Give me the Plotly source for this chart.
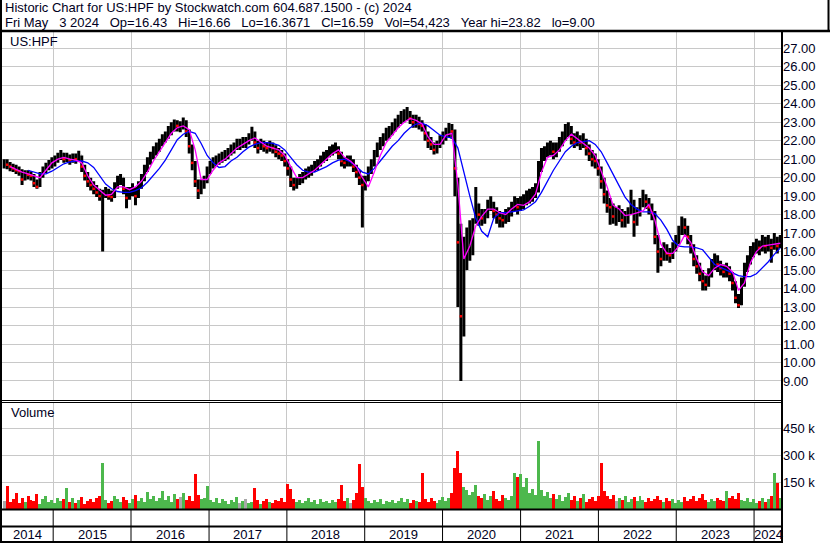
import plotly.graph_objects as go
import pandas as pd

# ---------------- data ----------------
dates = pd.date_range(end="2024-05-03", periods=261, freq="14D")

close = [
    20.8, 20.7, 20.6, 20.5, 20.4, 20.35, 19.9, 20.2, 20.15, 20.1,
    19.7, 19.5, 20.1, 20.4, 20.5, 20.7, 20.8, 20.9, 21.1, 21.3,
    21.0, 21.1, 20.95, 21.1, 21.0, 21.2, 20.6, 20.1, 19.8, 19.6,
    19.4, 19.2, 19.0, 19.1, 19.2, 19.0, 18.95, 19.5, 19.9, 20.0,
    19.4, 18.9, 19.2, 19.3, 19.0, 19.5, 19.9, 20.4, 20.8, 21.1,
    21.4, 21.6, 21.8, 22.0, 22.2, 22.5, 22.7, 22.9, 22.8, 22.8,
    23.0, 22.5, 21.7, 20.8, 19.8, 19.3, 19.6, 19.8, 20.3, 20.6,
    20.8, 20.9, 21.0, 21.1, 21.2, 21.3, 21.5, 21.6, 21.8, 21.8,
    21.9, 21.9, 22.1, 22.4, 21.9, 21.6, 21.8, 21.7, 21.6, 21.7,
    21.6, 21.4, 21.3, 21.2, 20.9, 20.5, 19.9, 19.6, 19.7, 19.9,
    20.0, 20.2, 20.3, 20.4, 20.6, 20.7, 20.9, 21.1, 21.2, 21.4,
    21.5, 21.6, 21.3, 20.9, 20.8, 20.9, 20.9, 20.6, 20.3, 20.0,
    19.6, 19.8, 20.3, 20.7, 21.2, 21.6, 21.9, 22.1, 22.4, 22.5,
    22.7, 22.9, 23.1, 23.3, 23.4, 23.5, 23.2, 23.0, 23.1, 22.9,
    22.8, 22.4, 22.0, 21.8, 21.5, 21.7, 22.0, 22.2, 22.4, 22.6,
    22.5, 20.5, 16.5, 12.5, 15.0, 16.2, 16.6, 17.1, 18.6, 18.0,
    17.8, 17.9, 18.4, 18.6, 18.2, 18.0, 17.8, 17.7, 17.9, 18.0,
    18.3, 18.6, 18.4, 18.6, 18.7, 18.9, 19.0, 19.1, 19.3, 20.5,
    21.2, 21.3, 21.5, 21.6, 21.4, 21.5, 21.8, 22.1, 22.6, 22.7,
    22.1, 21.9, 22.1, 21.9, 22.0, 21.6, 21.3, 21.0, 20.9, 20.5,
    19.8, 19.1, 18.5, 18.4, 17.9, 17.9, 18.1, 17.7, 17.8, 18.0,
    18.7, 17.6, 18.0, 18.5, 19.0, 18.7, 18.4, 18.1, 16.8, 16.0,
    15.6, 16.1, 15.9, 15.8, 16.1, 16.5, 17.0, 17.5, 17.3, 16.8,
    16.3, 15.6, 15.2, 14.8, 14.4, 14.2, 14.7, 15.2, 15.5, 15.3,
    15.1, 14.9, 15.0, 14.8, 14.3, 13.5, 13.1, 14.2, 15.0, 15.4,
    15.9, 16.1, 16.3, 16.2, 16.5, 16.3, 16.5, 16.2, 16.6, 16.3, 16.59,
]

high = [
    21.0, 21.0, 20.85, 20.75, 20.7, 20.6, 20.45, 20.4, 20.4, 20.35,
    20.2, 19.9, 20.3, 20.6, 20.8, 20.95, 21.1, 21.2, 21.35, 21.5,
    21.35, 21.35, 21.25, 21.3, 21.3, 21.45, 21.2, 20.7, 20.3, 20.0,
    19.8, 19.6, 19.4, 19.35, 19.5, 19.4, 19.3, 19.75, 20.1, 20.2,
    20.0, 19.5, 19.5, 19.7, 19.5, 19.8, 20.2, 20.7, 21.1, 21.4,
    21.7, 21.9, 22.1, 22.35, 22.5, 22.8, 23.0, 23.15, 23.1, 23.05,
    23.25, 23.1, 22.6, 21.8, 20.9, 19.9, 19.9, 20.1, 20.6, 20.9,
    21.1, 21.2, 21.3, 21.4, 21.5, 21.6, 21.8, 21.9, 22.1, 22.1,
    22.2, 22.2, 22.4, 22.75, 22.5, 22.0, 22.1, 22.0, 21.9, 22.0,
    21.9, 21.75, 21.6, 21.5, 21.3, 21.0, 20.6, 20.0, 20.0, 20.2,
    20.3, 20.5, 20.6, 20.7, 20.9, 21.0, 21.2, 21.4, 21.5, 21.7,
    21.8, 21.9, 21.7, 21.4, 21.1, 21.2, 21.2, 21.0, 20.7, 20.4,
    20.1, 20.1, 20.6, 21.0, 21.5, 21.9, 22.2, 22.4, 22.7, 22.8,
    23.0, 23.2, 23.4, 23.6, 23.7, 23.82, 23.6, 23.4, 23.4, 23.3,
    23.1, 22.9, 22.5, 22.2, 21.9, 22.0, 22.3, 22.5, 22.7, 22.95,
    22.9, 22.6, 20.0, 17.5, 16.8, 17.3, 17.7, 17.8, 19.5, 18.6,
    18.3, 18.3, 18.8, 19.0, 18.7, 18.4, 18.2, 18.1, 18.3, 18.4,
    18.7, 19.0, 18.9, 19.0, 19.1, 19.3, 19.4, 19.5, 19.7, 20.9,
    21.6, 21.7, 21.9, 22.0, 21.9, 21.9, 22.2, 22.5, 22.9, 23.0,
    22.8, 22.4, 22.5, 22.3, 22.4, 22.1, 21.8, 21.5, 21.3, 21.0,
    20.6, 20.0, 19.3, 18.9, 18.6, 18.4, 18.5, 18.3, 18.2, 18.4,
    19.35, 18.8, 18.4, 18.9, 19.35, 19.1, 18.9, 18.6, 18.2, 16.9,
    16.2, 16.5, 16.4, 16.2, 16.5, 16.9, 17.4, 17.9, 17.8, 17.4,
    16.9, 16.4, 15.8, 15.4, 15.0, 14.7, 15.1, 15.6, 15.9, 15.8,
    15.5, 15.3, 15.4, 15.2, 14.9, 14.4, 13.7, 14.6, 15.4, 15.8,
    16.3, 16.5, 16.7, 16.6, 16.9, 16.8, 16.9, 16.7, 17.0, 16.8, 16.9,
]

low = [
    20.5, 20.45, 20.35, 20.3, 20.2, 20.1, 19.6, 19.85, 19.9, 19.85,
    19.5, 19.4, 19.5, 20.0, 20.25, 20.4, 20.5, 20.6, 20.8, 20.95,
    20.8, 20.85, 20.7, 20.8, 20.75, 20.9, 20.3, 19.85, 19.5, 19.3,
    19.1, 18.95, 18.75, 16.0, 18.9, 18.8, 18.7, 18.9, 19.4, 19.6,
    19.1, 18.35, 18.8, 19.0, 18.5, 18.9, 19.4, 19.8, 20.3, 20.7,
    21.0, 21.2, 21.4, 21.7, 21.9, 22.1, 22.3, 22.5, 22.5, 22.45,
    22.6, 22.2, 21.3, 20.4, 19.5, 18.85, 19.1, 19.4, 19.7, 20.2,
    20.5, 20.6, 20.7, 20.8, 20.9, 21.0, 21.2, 21.3, 21.5, 21.5,
    21.6, 21.6, 21.8, 22.0, 21.6, 21.3, 21.5, 21.4, 21.3, 21.4,
    21.3, 21.1, 21.0, 20.9, 20.6, 20.1, 19.5, 19.3, 19.4, 19.6,
    19.7, 19.9, 20.0, 20.1, 20.3, 20.4, 20.6, 20.8, 20.9, 21.1,
    21.2, 21.3, 21.0, 20.6, 20.5, 20.6, 20.6, 20.3, 20.0, 19.6,
    17.3, 19.3, 19.8, 20.2, 20.6, 21.1, 21.5, 21.7, 22.0, 22.1,
    22.3, 22.5, 22.7, 22.9, 23.0, 23.1, 22.9, 22.7, 22.7, 22.6,
    22.5, 22.0, 21.6, 21.5, 21.25, 21.3, 21.6, 21.8, 22.0, 22.2,
    22.1, 19.0, 13.0, 9.0, 11.4, 15.0, 15.5, 15.8, 17.5, 17.4,
    17.4, 17.5, 17.8, 18.2, 17.8, 17.5, 17.3, 17.3, 17.5, 17.6,
    17.9, 18.2, 18.0, 18.2, 18.3, 18.5, 18.6, 18.7, 18.9, 19.2,
    20.3, 20.9, 21.1, 21.2, 21.0, 21.1, 21.4, 21.7, 22.0, 22.2,
    21.8, 21.6, 21.7, 21.5, 21.6, 21.2, 20.9, 20.6, 20.5, 20.1,
    19.4, 18.6, 18.1, 17.45, 17.5, 17.4, 17.6, 17.3, 17.3, 17.5,
    18.0, 16.8, 17.4, 17.9, 18.4, 18.3, 18.0, 17.7, 16.4, 14.85,
    15.2, 15.5, 15.5, 15.4, 15.6, 16.0, 16.4, 16.9, 16.9, 16.4,
    15.9, 15.2, 14.8, 14.4, 13.9, 13.9, 14.1, 14.6, 15.0, 14.9,
    14.7, 14.6, 14.6, 14.4, 13.9, 13.2, 12.95, 13.1, 14.1, 14.9,
    15.3, 15.7, 15.9, 15.8, 16.0, 15.9, 16.0, 15.4, 16.1, 15.9, 16.2,
]

volume_k = [
    45, 130, 40, 55, 90, 35, 60, 40, 70, 50,
    45, 85, 30, 55, 70, 40, 50, 35, 60, 45,
    55, 117, 40, 60, 35, 50, 65, 30, 45, 55,
    40, 60, 75, 257, 50, 35, 45, 70, 55, 40,
    65, 50, 35, 55, 80, 45, 60, 40, 95, 55,
    70, 45, 60, 100, 50, 75, 40, 85, 55, 65,
    90, 50, 70, 45, 195, 80, 55, 60, 130, 50,
    40, 60, 35, 55, 45, 30, 50, 40, 65, 35,
    45, 55, 35, 40, 117, 50, 30, 45, 55, 40,
    35, 50, 45, 60, 40, 139, 110, 55, 40, 50,
    35, 45, 60, 40, 50, 30, 55, 40, 45, 35,
    50, 40, 55, 133, 45, 60, 35, 50, 90, 250,
    120, 60, 45, 35, 50, 40, 55, 30, 45, 40,
    50, 35, 45, 60, 40, 55, 35, 50, 45, 40,
    202, 55, 40, 60, 45, 35, 50, 65, 45, 60,
    90, 228, 322, 200, 122, 106, 80, 95, 133, 70,
    60, 85, 50, 70, 100, 55, 45, 80, 60, 50,
    75, 200, 178, 194, 120, 172, 90, 110, 80, 378,
    106, 70, 94, 60, 85, 55, 80, 45, 65, 90,
    50, 70, 45, 60, 85, 40, 55, 65, 45, 70,
    256, 100, 70, 55, 80, 45, 60, 50, 70, 40,
    55, 65, 45, 70, 50, 40, 60, 45, 55, 75,
    50, 40, 60, 45, 55, 35, 50, 40, 65, 45,
    55, 70, 45, 60, 85, 50, 40, 55, 45, 60,
    50, 45, 100, 60, 75, 55, 90, 50, 45, 60,
    40, 55, 35, 45, 60, 40, 55, 70, 200, 145, 60,
]

# moving averages, sampled on every second bar date
ma_dates = dates[::2]
ma_fast = [
    None,
    20.6, 20.45, 20.3, 20.2, 20.1, 20.0, 20.4, 20.8, 21.0, 21.1,
    21.0, 20.95, 20.8, 20.1, 19.6, 19.3, 19.05, 19.1, 19.5, 19.5,
    19.35, 19.5, 19.8, 20.3, 20.9, 21.4, 21.9, 22.4, 22.7, 22.8,
    22.6, 21.5, 19.9, 19.9, 20.4, 20.8, 21.0, 21.3, 21.6, 21.8,
    22.0, 22.15, 21.9, 21.7, 21.6, 21.5, 21.2, 20.6, 20.0, 20.0,
    20.2, 20.4, 20.7, 21.0, 21.3, 21.5, 21.1, 20.9, 20.6, 20.0,
    19.5, 20.3, 21.2, 21.9, 22.3, 22.7, 23.0, 23.2, 23.1, 22.9,
    22.2, 21.8, 21.8, 22.3, 22.4, 19.6, 15.6, 16.3, 17.4, 17.9,
    18.3, 18.3, 18.1, 18.0, 18.3, 18.55, 18.5, 18.7, 19.1, 20.3,
    21.1, 21.2, 21.5, 22.0, 22.35, 22.1, 21.9, 21.6, 21.2, 20.4,
    19.5, 18.5, 18.3, 17.95, 18.0, 18.1, 18.2, 18.55, 17.7, 16.4,
    15.9, 15.9, 16.3, 16.9, 16.5, 15.6, 14.9, 14.7, 15.1, 15.3,
    15.2, 14.9, 13.9, 14.3, 15.4, 16.0, 16.3, 16.35, 16.4, 16.45,
]
ma_slow = [
    None, None, None, None,
    20.4, 20.3, 20.2, 20.2, 20.35, 20.55, 20.75,
    20.85, 20.9, 20.9, 20.8, 20.55, 20.1, 19.65, 19.4, 19.25, 19.2,
    19.2, 19.3, 19.45, 19.75, 20.1, 20.5, 20.95, 21.5, 22.05, 22.35,
    22.5, 22.4, 21.85, 21.2, 20.8, 20.55, 20.6, 20.9, 21.1, 21.4,
    21.65, 21.8, 21.9, 21.9, 21.85, 21.75, 21.5, 21.1, 20.7, 20.4,
    20.3, 20.3, 20.45, 20.6, 20.8, 20.95, 21.0, 20.85, 20.6, 20.3,
    20.2, 20.5, 20.9, 21.3, 21.7, 22.0, 22.4, 22.7, 22.9, 22.95,
    22.8, 22.55, 22.3, 22.2, 22.15, 21.6, 20.25, 19.0, 17.8, 17.1,
    16.8, 17.8, 18.1, 18.1, 18.15, 18.2, 18.25, 18.45, 18.7, 19.2,
    19.8, 20.4, 20.9, 21.4, 21.7, 21.9, 21.95, 22.0, 21.8, 21.4,
    20.8, 20.2, 19.55, 18.95, 18.55, 18.3, 18.15, 18.15, 18.05, 17.7,
    17.2, 16.6, 16.3, 16.25, 16.25, 16.2, 16.1, 15.7, 15.3, 15.15,
    15.0, 14.85, 14.7, 14.65, 14.65, 14.8, 15.1, 15.45, 15.85, 16.2,
]

price_ticks = list(range(9, 28))
vol_ticks = [150000, 300000, 450000]
vol_tick_labels = ["150 k", "300 k", "450 k"]
years = list(range(2014, 2025))

SP3 = "\u00a0\u00a0\u00a0"
header1 = "Historic Chart for US:HPF by Stockwatch.com 604.687.1500 - (c) 2024"
header2 = SP3.join([
    "Fri May", "3 2024", "Op=16.43", "Hi=16.66", "Lo=16.3671", "Cl=16.59",
    "Vol=54,423", "Year hi=23.82", "lo=9.00",
])

# ---------------- geometry / style ----------------
W, H = 830, 543
FONT = "Liberation Sans, Arial, sans-serif"
TXT = "#000022"
GRID = "#c8c8c8"
X_START, X_END = "2014-05-06", "2024-05-11"


def fx(p):
    return p / W


def fy(p):
    return 1 - p / H


opens = [close[0]] + close[:-1]
volume = [v * 1000 for v in volume_k]
vcol = []
for i, c in enumerate(close):
    prev = close[i - 1] if i > 0 else c
    if c > prev:
        vcol.append("#4db84d")
    elif c < prev:
        vcol.append("#ff0000")
    else:
        vcol.append("#a8a8a8")
down_x = [d for i, d in enumerate(dates) if i > 0 and close[i] < close[i - 1]]
down_y = [c for i, c in enumerate(close) if i > 0 and c < close[i - 1]]

fig = go.Figure()
fig.add_trace(go.Ohlc(
    x=dates, open=opens, high=high, low=low, close=close,
    increasing=dict(line=dict(color="black", width=3)),
    decreasing=dict(line=dict(color="black", width=3)),
    tickwidth=0.05, xaxis="x", yaxis="y", hoverinfo="skip", showlegend=False,
))
fig.add_trace(go.Scatter(
    x=down_x, y=down_y, mode="markers",
    marker=dict(symbol="square", size=2.5, color="#ff0000", line=dict(width=0)),
    xaxis="x", yaxis="y", hoverinfo="skip", showlegend=False,
))
fig.add_trace(go.Scatter(
    x=ma_dates, y=ma_slow, mode="lines", line=dict(color="#0000ff", width=1.3),
    xaxis="x", yaxis="y", hoverinfo="skip", showlegend=False, connectgaps=False,
))
fig.add_trace(go.Scatter(
    x=ma_dates, y=ma_fast, mode="lines", line=dict(color="#ff00ff", width=1.3),
    xaxis="x", yaxis="y", hoverinfo="skip", showlegend=False, connectgaps=False,
))
fig.add_trace(go.Bar(
    x=dates, y=volume, marker=dict(color=vcol, line=dict(width=0)),
    xaxis="x2", yaxis="y2", hoverinfo="skip", showlegend=False,
))

year_starts = [f"{y}-01-01" for y in years[1:]]
xcommon = dict(
    type="date", range=[X_START, X_END], domain=[fx(2), fx(782)],
    showticklabels=False, ticks="", tickvals=year_starts,
    showgrid=True, gridcolor=GRID, gridwidth=1, zeroline=False, showline=False,
    rangeslider=dict(visible=False), fixedrange=True,
)
fig.update_layout(
    width=W, height=H, margin=dict(l=0, r=0, t=0, b=0),
    paper_bgcolor="white", plot_bgcolor="white",
    bargap=0, showlegend=False,
    font=dict(family=FONT, size=13, color=TXT),
    xaxis=dict(**xcommon, anchor="y"),
    xaxis2=dict(**xcommon, anchor="y2", matches="x"),
    yaxis=dict(
        domain=[fy(400), fy(32)], range=[7.97, 27.88], side="right",
        tickvals=price_ticks, ticktext=[f"{v:.2f}" for v in price_ticks],
        showgrid=True, gridcolor=GRID, gridwidth=1, zeroline=False, ticks="",
        tickfont=dict(family=FONT, size=13, color=TXT), fixedrange=True,
    ),
    yaxis2=dict(
        domain=[fy(509), fy(403)], range=[0, 589000], side="right",
        tickvals=vol_ticks, ticktext=vol_tick_labels,
        showgrid=True, gridcolor=GRID, gridwidth=1, zeroline=False, ticks="",
        tickfont=dict(family=FONT, size=13, color=TXT), fixedrange=True,
    ),
)

shapes = []


def hline(y, x0, x1, w=1):
    shapes.append(dict(type="line", xref="paper", yref="paper",
                       x0=fx(x0), x1=fx(x1), y0=fy(y), y1=fy(y),
                       line=dict(color="black", width=w)))


def vline(x, y0, y1, w=1):
    shapes.append(dict(type="line", xref="paper", yref="paper",
                       x0=fx(x), x1=fx(x), y0=fy(y0), y1=fy(y1),
                       line=dict(color="black", width=w)))


hline(31, 0, 830, 2.5)
vline(828.5, 0, 31, 2)
vline(1, 0, 543, 2)
vline(782, 31, 543, 2)
hline(400.5, 0, 782, 1)
hline(402.5, 0, 782, 1)
hline(509.5, 0, 782, 2)
hline(526.5, 0, 782, 2)
hline(542, 0, 782, 2)
for ys in year_starts:
    shapes.append(dict(type="line", xref="x", yref="paper", x0=ys, x1=ys,
                       y0=fy(542), y1=fy(510), line=dict(color="black", width=1)))
fig.update_layout(shapes=shapes)

ann = [
    dict(text=header1, x=fx(3), y=fy(7.5), size=13),
    dict(text=header2, x=fx(3), y=fy(22), size=13),
    dict(text="US:HPF", x=fx(8), y=fy(41), size=13),
    dict(text="Volume", x=fx(9), y=fy(413), size=13),
]
annotations = []
for a in ann:
    annotations.append(dict(
        text=a["text"], x=a["x"], y=a["y"], xref="paper", yref="paper",
        xanchor="left", yanchor="middle", showarrow=False,
        font=dict(family=FONT, size=a["size"], color=TXT),
    ))
bounds = [pd.Timestamp(X_START)] + [pd.Timestamp(s) for s in year_starts] + [pd.Timestamp("2024-05-13")]
for i, yr in enumerate(years):
    mid = bounds[i] + (bounds[i + 1] - bounds[i]) / 2
    annotations.append(dict(
        text=str(yr), x=mid, y=fy(534.5), xref="x", yref="paper",
        xanchor="center", yanchor="middle", showarrow=False,
        font=dict(family=FONT, size=13, color=TXT),
    ))
fig.update_layout(annotations=annotations)

fig.write_html(
    "out.html",
    config={"displayModeBar": False, "staticPlot": True},
    post_script="document.body.style.margin='0px';document.body.style.padding='0px';"
                "document.body.style.overflow='hidden';",
)
